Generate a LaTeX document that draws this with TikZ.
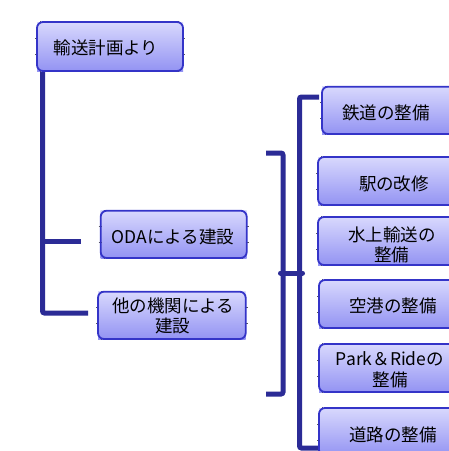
\documentclass[tikz,border=0pt]{standalone}
\usepackage{fontspec}
\newfontfamily\jp{Noto Sans CJK JP}
\usetikzlibrary{fit}
\definecolor{navy}{HTML}{2B2B96}
\definecolor{boxline}{HTML}{3434C8}
\definecolor{boxtop}{HTML}{D8D8FD}
\definecolor{boxbot}{HTML}{9393F3}
\tikzset{
 conn/.style={draw=navy, line width=5pt, rounded corners=2pt},
 boxst/.style={draw=boxline, line width=1.8pt, rounded corners=6pt, inner sep=0pt},
 lbl/.style={font=\jp\fontsize{17.5}{20.5}\selectfont, align=center, inner sep=0pt, text=black},
 handles/.style={draw=black!65, line width=0.9pt, dash pattern=on 1.2pt off 8pt},
 ticks/.style={draw=black!65, line width=0.9pt},
}
\newcommand\uibox[5]{%
 \shade[top color=boxtop,bottom color=boxbot] (#2,#3) rectangle (#4,#5);
 \draw[handles] (#2+3,#3-0.6) -- (#4,#3-0.6);
 \draw[handles] (#2+3,#5+0.8) -- (#4,#5+0.8);
 \draw[ticks] ({#2-2},{#3+(#5-#3)/3}) -- ++(3,0);
 \draw[ticks] ({#2-2},{#3+2*(#5-#3)/3}) -- ++(3,0);
 \draw[ticks] ({#4-1},{#3+(#5-#3)/3}) -- ++(3,0);
 \draw[ticks] ({#4-1},{#3+2*(#5-#3)/3}) -- ++(3,0);
 \node[boxst, fit={(#2,#3) (#4,#5)}] (#1) {};
}
\begin{document}
\begin{tikzpicture}[x=1pt,y=-1pt]
\clip (0,0) rectangle (449,451);
\fill[white] (0,0) rectangle (449,451);
% connector coordinates
\coordinate (lt) at (42.5,70);
\coordinate (lc) at (42.5,313);
\coordinate (le) at (88,313);
\coordinate (lb) at (42.5,241);
\coordinate (lbe) at (80.5,241);
\coordinate (a1) at (266,153);
\coordinate (a2) at (283,153);
\coordinate (a3) at (283,394);
\coordinate (a4) at (266,394);
\coordinate (c1) at (319,97);
\coordinate (c2) at (299.5,97);
\coordinate (c3) at (299.5,448);
\coordinate (c4) at (319,448);
\coordinate (j1) at (280.5,273);
\coordinate (j2) at (302.5,273);
\draw[conn] (lt) -- (lc) -- (le);
\draw[conn] (lb) -- (lbe);
\draw[conn] (a1) -- (a2) -- (a3) -- (a4);
\draw[conn] (c1) -- (c2) -- (c3) -- (c4);
\draw[conn, line cap=round] (j1) -- (j2);
% boxes
\uibox{b1}{37}{22}{183}{71}
\uibox{b2}{100.7}{210.7}{246.7}{258}
\uibox{b3}{98}{291.7}{245.7}{339}
\uibox{r1}{322}{86.7}{462}{134}
\uibox{r2}{318}{157}{466}{205}
\uibox{r3}{318}{217}{466}{265}
\uibox{r4}{319}{280}{466}{328}
\uibox{r5}{319}{344}{466}{392}
\uibox{r6}{319}{408}{466}{456}
% labels
\node[lbl] (t1) at (106,48) {輸送計画より};
\node[lbl] (t2) at (173,237) {ODAによる建設};
\node[lbl] (t3) at (173,316) {他の機関による\\建設};
\node[lbl] (u1) at (386,113) {鉄道の整備};
\node[lbl] (u2) at (394,184) {駅の改修};
\node[lbl] (u3) at (392,245) {水上輸送の\\整備};
\node[lbl] (u4) at (393,306) {空港の整備};
\node[lbl] (u5) at (390,369.5) {Park＆Rideの\\整備};
\node[lbl] (u6) at (393,435) {道路の整備};
\end{tikzpicture}
\end{document}
